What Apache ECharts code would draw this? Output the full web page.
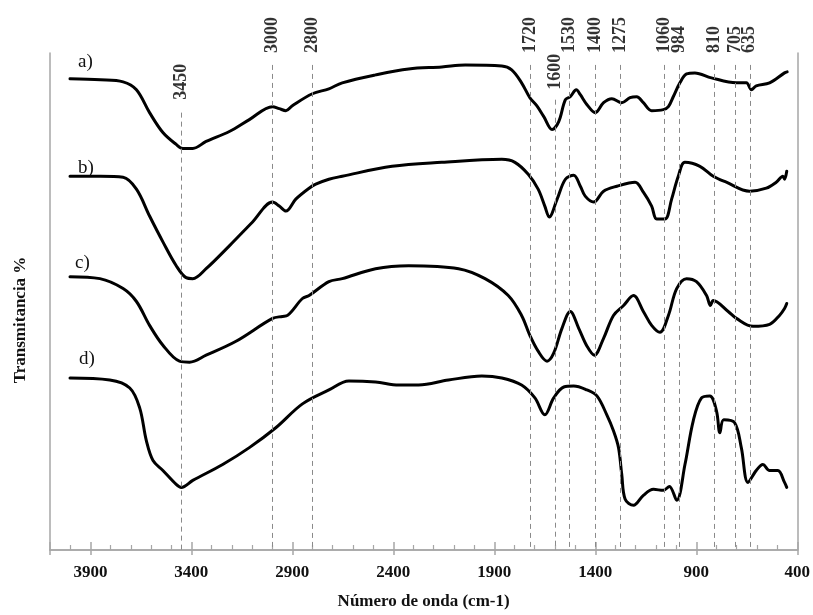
<!DOCTYPE html>
<html>
<head>
<meta charset="utf-8">
<script src="https://cdn.jsdelivr.net/npm/echarts@6/dist/echarts.min.js"></script>
<style>
  html, body { margin: 0; padding: 0; background: #fff; }
  #chart { width: 813px; height: 615px; }
</style>
</head>
<body>
<div id="chart"></div>
<script>
// wavenumbers (cm-1) and offset transmittance
const waveA = [4001, 3850, 3738, 3672, 3607, 3541, 3475, 3442, 3393, 3327, 3212, 3113, 2998, 2965, 2932, 2900, 2801, 2719, 2653, 2488, 2324, 2160, 2044, 1863, 1814, 1765, 1724, 1690, 1655, 1614, 1581, 1548, 1524, 1494, 1474, 1441, 1400, 1359, 1318, 1269, 1228, 1195, 1162, 1121, 1063, 1038, 1014, 981, 948, 907, 825, 701, 652, 627, 603, 537, 463, 450];
const transA = [474, 473, 471, 463, 440, 420, 408, 404, 404, 411, 421, 433, 446, 444, 442, 447, 459, 464, 470, 478, 484, 486, 488, 487, 483, 470, 455, 447, 436, 423, 431, 453, 456, 463, 458, 448, 440, 450, 454, 450, 455, 456, 450, 442, 443, 446, 456, 470, 479, 480, 475, 470, 470, 463, 467, 470, 480, 481];

const waveB = [4001, 3850, 3738, 3672, 3607, 3541, 3475, 3426, 3393, 3327, 3212, 3097, 2998, 2965, 2932, 2883, 2817, 2784, 2719, 2653, 2406, 2160, 1863, 1798, 1732, 1683, 1650, 1628, 1589, 1548, 1507, 1474, 1450, 1408, 1359, 1293, 1203, 1162, 1121, 1096, 1055, 1022, 989, 956, 882, 816, 751, 636, 553, 504, 471, 463, 452];
const transB = [376, 376, 375, 363, 336, 310, 286, 274, 273, 283, 306, 330, 350, 346, 341, 353, 364, 368, 373, 376, 386, 390, 393, 390, 378, 363, 346, 335, 353, 373, 377, 366, 356, 350, 361, 366, 370, 360, 346, 333, 333, 353, 376, 390, 386, 376, 370, 361, 364, 370, 376, 373, 381];

const waveC = [4001, 3853, 3738, 3672, 3607, 3541, 3459, 3409, 3327, 3179, 2998, 2949, 2924, 2850, 2817, 2719, 2653, 2488, 2324, 2077, 1946, 1831, 1765, 1724, 1683, 1639, 1606, 1565, 1524, 1482, 1441, 1405, 1359, 1310, 1260, 1211, 1162, 1121, 1080, 1038, 997, 948, 899, 849, 830, 816, 742, 701, 619, 537, 488, 463, 452];
const transC = [275, 273, 263, 250, 226, 206, 190, 189, 196, 210, 233, 235, 236, 253, 256, 270, 273, 283, 286, 283, 273, 256, 236, 216, 200, 190, 198, 223, 240, 223, 205, 196, 213, 236, 246, 256, 240, 226, 219, 236, 263, 273, 270, 256, 246, 251, 240, 233, 225, 227, 236, 243, 248];

const waveD = [4001, 3804, 3705, 3656, 3623, 3590, 3541, 3475, 3450, 3393, 3245, 3113, 2982, 2850, 2719, 2620, 2488, 2373, 2275, 2127, 1962, 1863, 1765, 1699, 1650, 1606, 1556, 1507, 1441, 1392, 1343, 1310, 1285, 1269, 1252, 1211, 1162, 1112, 1063, 1033, 997, 956, 915, 874, 833, 800, 783, 764, 710, 677, 644, 603, 570, 537, 496, 463, 452];
const transD = [173, 171, 163, 143, 110, 90, 80, 66, 63, 70, 86, 103, 123, 147, 161, 170, 169, 166, 166, 171, 175, 173, 166, 153, 136, 153, 164, 165, 161, 155, 136, 120, 103, 76, 51, 45, 55, 61, 60, 64, 50, 86, 130, 153, 155, 140, 118, 131, 128, 103, 68, 80, 86, 80, 80, 68, 63];

const curveNames = ['a)', 'b)', 'c)', 'd)'];

// marked bands, with the level (in axis units) where the label starts and where the dashed line starts
const peakWave = [3450, 3000, 2800, 1720, 1600, 1530, 1400, 1275, 1060, 984, 810, 705, 635];
const peakLabelLevel = [453, 500, 500, 500, 463, 500, 500, 500, 500, 500, 500, 500, 500];
const peakLineTop = [440, 488, 488, 488, 453, 488, 488, 488, 488, 488, 488, 488, 488];

const xTickValues = [400, 900, 1400, 1900, 2400, 2900, 3400, 3900];

const serif = '"Liberation Serif", "DejaVu Serif", serif';
const axisGray = '#a6a6a6';

const chart = echarts.init(document.getElementById('chart'));

const toPairs = (xs, ys) => xs.map((x, i) => [x, ys[i]]);
const curves = [
  toPairs(waveA, transA),
  toPairs(waveB, transB),
  toPairs(waveC, transC),
  toPairs(waveD, transD),
];

const baseX = {
  type: 'value',
  min: 400,
  max: 4100,
  inverse: true,
  position: 'bottom',
  gridIndex: 0,
  splitLine: { show: false },
};

const option = {
  animation: false,
  backgroundColor: '#fff',
  grid: { left: 50, right: 13, top: 53, bottom: 62 },
  xAxis: [
    {
      ...baseX,
      interval: 500,
      name: 'Número de onda (cm-1)',
      nameLocation: 'middle',
      nameGap: 43,
      nameTextStyle: { fontFamily: serif, fontWeight: 'bold', fontSize: 17, color: '#111' },
      axisLine: { show: true, lineStyle: { color: axisGray, width: 1.5 } },
      axisTick: {
        show: true,
        inside: true,
        length: 8,
        lineStyle: { color: axisGray, width: 1.5 },
      },
      minorTick: {
        show: true,
        splitNumber: 5,
        length: 5,
        lineStyle: { color: axisGray, width: 1.2 },
      },
      axisLabel: {
        show: true,
        margin: 14,
        formatter: (v) => (xTickValues.indexOf(v) >= 0 ? String(v) : ''),
        fontFamily: serif,
        fontWeight: 'bold',
        fontSize: 17,
        color: '#111',
      },
    },
    {
      ...baseX,
      axisLine: { show: true, lineStyle: { color: axisGray, width: 1.5 } },
      axisLabel: { show: false },
      axisTick: {
        show: true,
        inside: false,
        length: 5,
        customValues: xTickValues.concat([4100]),
        lineStyle: { color: axisGray, width: 1.5 },
      },
    },
  ],
  yAxis: [
    {
      type: 'value',
      min: 0,
      max: 500,
      position: 'left',
      axisLine: { show: true, lineStyle: { color: axisGray, width: 1.5 } },
      axisTick: { show: false },
      axisLabel: { show: false },
      splitLine: { show: false },
    },
    {
      type: 'value',
      min: 0,
      max: 500,
      position: 'right',
      axisLine: { show: true, lineStyle: { color: axisGray, width: 1.5 } },
      axisTick: { show: false },
      axisLabel: { show: false },
      splitLine: { show: false },
    },
  ],
  graphic: [
    {
      type: 'text',
      x: 21,
      y: 320,
      rotation: Math.PI / 2,
      style: {
        text: 'Transmitancia %',
        font: 'bold 17px ' + serif,
        fill: '#111',
        align: 'center',
        verticalAlign: 'middle',
      },
    },
    { type: 'text', left: 78, top: 53, style: { text: curveNames[0], font: '19px ' + serif, fill: '#111' } },
    { type: 'text', left: 78, top: 159, style: { text: curveNames[1], font: '19px ' + serif, fill: '#111' } },
    { type: 'text', left: 75, top: 254, style: { text: curveNames[2], font: '19px ' + serif, fill: '#111' } },
    { type: 'text', left: 79, top: 350, style: { text: curveNames[3], font: '19px ' + serif, fill: '#111' } },
  ],
  series: [
    {
      name: 'bandas',
      type: 'scatter',
      symbolSize: 0,
      clip: false,
      silent: true,
      z: 3,
      data: peakWave.map((v, i) => [v, peakLabelLevel[i]]),
      label: {
        show: true,
        position: 'inside',
        rotate: 90,
        align: 'left',
        verticalAlign: 'middle',
        formatter: (p) => String(p.value[0]),
        fontFamily: serif,
        fontWeight: 700,
        fontSize: 18,
        color: '#000',
      },
      markLine: {
        silent: true,
        symbol: ['none', 'none'],
        label: { show: false },
        lineStyle: { color: '#8a8a8a', width: 1, type: [5, 4] },
        data: peakWave.map((v, i) => [
          { coord: [v, peakLineTop[i]] },
          { coord: [v, 0] },
        ]),
      },
    },
  ].concat(
    curves.map((data, i) => ({
      name: curveNames[i],
      type: 'line',
      data: data,
      showSymbol: false,
      smooth: 0.35,
      z: 4,
      lineStyle: { color: '#000', width: 3, join: 'round', cap: 'round' },
    }))
  ),
};

chart.setOption(option);
</script>
</body>
</html>
